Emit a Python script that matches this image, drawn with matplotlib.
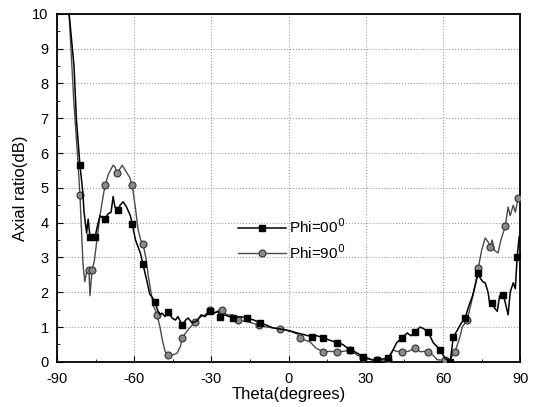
import matplotlib.pyplot as plt
from matplotlib.ticker import MultipleLocator

plt.rcParams['font.family'] = ['Liberation Sans', 'DejaVu Sans']
plt.rcParams['axes.unicode_minus'] = False

# --- Phi = 0 deg (square markers) ---
theta_phi0 = [-85.3, -83.4, -82.5, -81.1, -80.0, -79.5, -78.5, -77.9, -77.2, -76.0,
              -75.2, -74.3, -73.3, -72.5, -71.3, -70.2, -69.0, -68.2, -67.5, -66.3,
              -65.5, -64.3, -63.0, -61.5, -60.8, -59.5, -58.5, -57.5, -56.6, -55.0,
              -54.0, -53.0, -51.9, -51.0, -50.0, -49.2, -48.0, -46.8, -45.3, -44.0,
              -43.0, -41.4, -40.0, -39.1, -37.5, -35.6, -34.0, -32.5, -30.5, -29.0,
              -27.5, -26.6, -25.0, -23.0, -21.6, -19.0, -16.1, -13.5, -11.1, -8.5,
              -6.4, -4.0, -1.4, 1.0, 3.3, 6.0, 9.1, 11.0, 13.4, 16.0,
              18.9, 21.0, 23.9, 26.0, 29.0, 31.0, 32.5, 34.4, 36.5, 38.7,
              40.6, 42.0, 44.1, 46.1, 47.5, 49.2, 51.1, 52.5, 54.2, 56.2,
              57.5, 58.9, 60.8, 62.0, 62.8, 64.0, 65.5, 67.0, 68.6, 70.0,
              71.5, 72.5, 73.7, 74.5, 75.5, 76.4, 77.5, 78.3, 79.1, 80.0,
              81.1, 82.0, 83.4, 84.2, 85.3, 86.1, 87.3, 88.1, 88.8, 89.6]
ar_phi0 = [10.0, 8.5, 7.0, 5.65, 4.9, 4.3, 3.7, 4.1, 3.6, 3.6,
           3.6, 3.9, 4.2, 4.15, 4.1, 4.25, 4.3, 4.75, 4.45, 4.35,
           4.5, 4.6, 4.45, 4.2, 3.97, 3.5, 3.3, 3.1, 2.8, 2.3,
           1.95, 1.85, 1.72, 1.5, 1.35, 1.4, 1.3, 1.43, 1.26, 1.2,
           1.3, 1.06, 1.2, 1.26, 1.12, 1.18, 1.35, 1.3, 1.45, 1.4,
           1.45, 1.3, 1.35, 1.3, 1.26, 1.3, 1.26, 1.2, 1.12, 1.05,
           0.98, 0.95, 0.92, 0.88, 0.83, 0.78, 0.72, 0.75, 0.69, 0.62,
           0.55, 0.5, 0.34, 0.28, 0.14, 0.1, 0.05, 0.06, 0.08, 0.11,
           0.34, 0.55, 0.69, 0.83, 0.75, 0.86, 1.0, 0.95, 0.86, 0.55,
           0.45, 0.34, 0.1, 0.05, 0.0, 0.72, 0.9, 1.1, 1.26, 1.6,
           1.9, 2.2, 2.56, 2.4, 2.3, 2.27, 2.0, 1.6, 1.7, 1.55,
           1.45, 1.9, 1.93, 1.7, 1.35, 2.0, 2.27, 2.1, 3.0, 3.6]
marks_phi0 = [3, 8, 10, 14, 19, 24, 28, 32, 37, 41, 48, 51, 54, 56, 58, 66, 68,
              70, 72, 74, 77, 79, 82, 85, 88, 91, 94, 95, 98, 102, 108, 112, 118]

# --- Phi = 90 deg (circle markers) ---
theta_phi90 = [-85.3, -83.5, -82.0, -81.1, -80.5, -79.9, -79.2, -78.5, -77.6, -77.2,
               -76.4, -75.5, -74.5, -73.3, -72.0, -71.3, -70.0, -68.2, -67.5, -66.7,
               -65.5, -64.7, -63.0, -61.8, -60.8, -59.5, -58.5, -57.5, -56.6, -55.5,
               -54.6, -53.5, -52.5, -51.1, -50.0, -49.0, -48.0, -46.8, -45.0, -43.3,
               -42.0, -41.4, -39.1, -36.3, -34.0, -32.5, -30.5, -29.0, -27.5, -26.0,
               -24.0, -21.6, -19.5, -16.0, -13.5, -11.5, -8.5, -6.4, -3.5, -1.4,
               1.0, 3.3, 4.5, 6.5, 8.4, 10.5, 13.4, 16.0, 18.9, 21.0,
               23.9, 26.5, 29.0, 31.5, 34.4, 36.5, 38.7, 40.6, 42.0, 44.1,
               46.5, 49.2, 51.1, 53.0, 54.2, 56.0, 57.7, 59.5, 60.8, 61.5,
               63.0, 64.7, 66.5, 67.5, 69.4, 71.0, 72.5, 73.7, 75.0, 76.4,
               77.5, 78.3, 79.1, 80.0, 81.4, 82.5, 84.2, 85.3, 86.1, 87.3,
               88.1, 89.2, 90.0]
ar_phi90 = [10.0, 7.5, 5.9, 4.8, 3.8, 2.8, 2.3, 2.6, 2.64, 1.9,
            2.64, 2.9, 3.5, 4.2, 4.8, 5.08, 5.4, 5.65, 5.6, 5.43,
            5.55, 5.65, 5.45, 5.3, 5.08, 4.4, 3.8, 3.5, 3.39, 3.0,
            2.5, 2.0, 1.6, 1.35, 1.0, 0.6, 0.3, 0.2, 0.2, 0.25,
            0.45, 0.69, 0.92, 1.15, 1.3, 1.35, 1.5, 1.4, 1.45, 1.5,
            1.35, 1.35, 1.2, 1.15, 1.1, 1.05, 1.0, 0.98, 0.95, 0.92,
            0.87, 0.8, 0.69, 0.62, 0.57, 0.4, 0.29, 0.3, 0.29, 0.3,
            0.34, 0.2, 0.11, 0.07, 0.06, 0.05, 0.06, 0.34, 0.3, 0.29,
            0.3, 0.4, 0.29, 0.3, 0.29, 0.2, 0.06, 0.05, 0.06, 0.0,
            0.1, 0.29, 0.7, 1.0, 1.2, 1.7, 2.2, 2.7, 3.2, 3.56,
            3.45, 3.3, 3.5, 3.2, 3.13, 3.5, 3.9, 4.45, 4.2, 4.5,
            4.3, 4.7, 4.6]
marks_phi90 = [3, 8, 10, 15, 19, 24, 28, 33, 37, 41, 43, 46, 49, 52, 55, 58, 62,
               66, 68, 70, 72, 74, 76, 79, 81, 84, 88, 91, 94, 97, 101, 106, 111]

fig, ax = plt.subplots(figsize=(5.33, 4.07), dpi=100)
fig.subplots_adjust(left=0.107, right=0.976, bottom=0.111, top=0.966)

ax.plot(theta_phi90, ar_phi90, color='#4a4a4a', lw=1.0, marker='o', ms=5,
        mfc='#8a8a8a', mec='#333333', mew=0.8, markevery=marks_phi90,
        label='Phi=90$^{0}$', zorder=3)
ax.plot(theta_phi0, ar_phi0, color='black', lw=1.1, marker='s', ms=5,
        mfc='black', mec='black', markevery=marks_phi0,
        label='Phi=00$^{0}$', zorder=4)

ax.set_xlim(-90, 90)
ax.set_ylim(0, 10)
ax.xaxis.set_major_locator(MultipleLocator(30))
ax.xaxis.set_minor_locator(MultipleLocator(15))
ax.yaxis.set_major_locator(MultipleLocator(1))
ax.yaxis.set_minor_locator(MultipleLocator(0.5))
ax.tick_params(which='both', direction='in', labelsize=10.5)
ax.tick_params(which='major', length=4)
ax.tick_params(which='minor', length=2)
ax.tick_params(axis='x', pad=7)
ax.tick_params(axis='y', pad=6)
ax.grid(True, which='major', ls=':', color='#999999', lw=0.8)
for sp in ax.spines.values():
    sp.set_linewidth(1.3)

ax.set_xlabel('Theta(degrees)', fontsize=12, labelpad=1)
ax.set_ylabel('Axial ratio(dB)', fontsize=12, labelpad=3)

h, l = ax.get_legend_handles_labels()
ax.legend(h[::-1], l[::-1], loc='upper left', bbox_to_anchor=(0.36, 0.455),
          frameon=False, fontsize=11, handlelength=3.2, labelspacing=0.45,
          handletextpad=0.2)

fig.savefig('out.png', dpi=100)
